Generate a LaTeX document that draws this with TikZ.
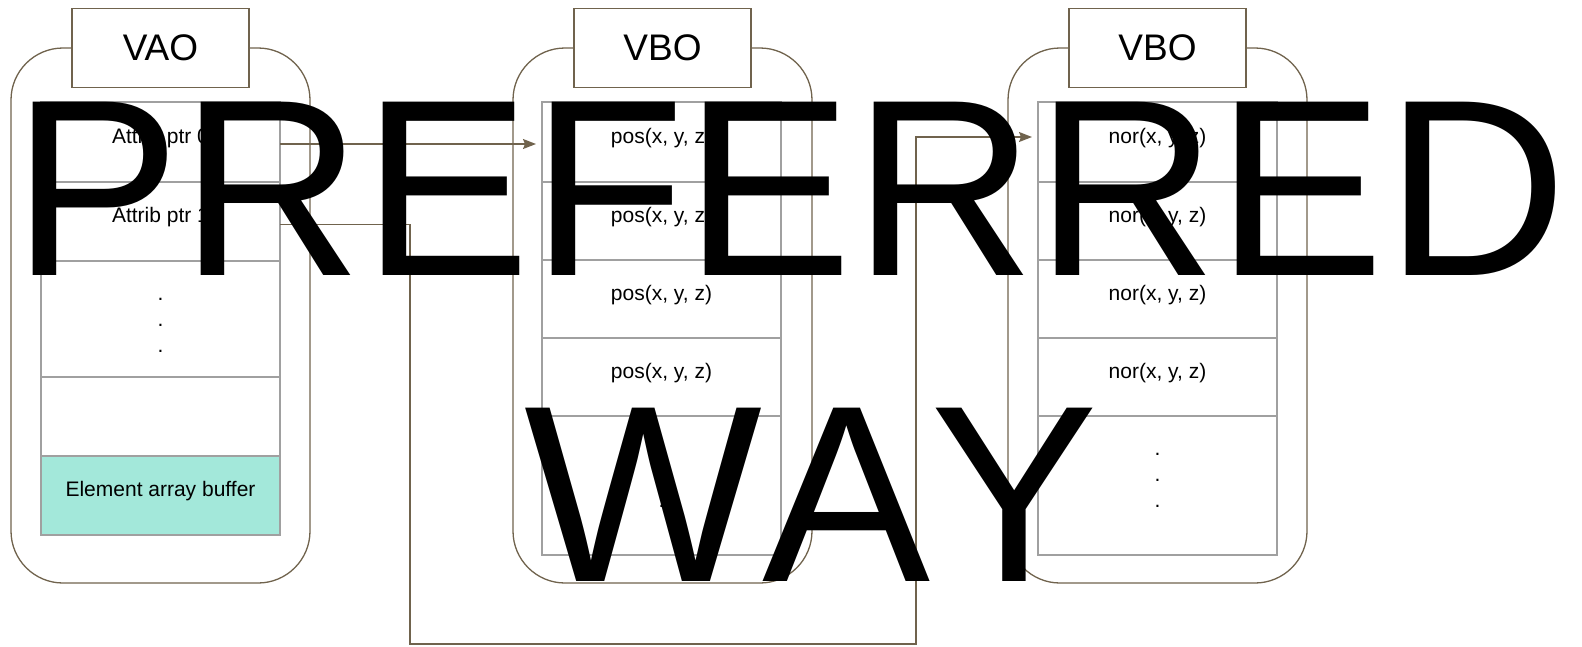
\documentclass[tikz,border=0pt]{standalone}
\usepackage{xcolor}
\usepackage{fontspec}
\setmainfont{Liberation Sans}
\newfontfamily\bannerfont[Kerning=Off]{Liberation Sans}
\usepackage{tikz}
\usetikzlibrary{arrows.meta,positioning}

\definecolor{rim}{RGB}{112,99,77}
\definecolor{grid}{RGB}{160,160,160}
\definecolor{ebofill}{RGB}{163,232,218}

\tikzstyle{holder} = [draw=rim, line width=1.3pt, rounded corners=52pt, minimum width=299pt, minimum height=535pt, inner sep=0pt, outer sep=0pt, anchor=north west]
\tikzstyle{tag} = [draw=rim, fill=white, line width=1.3pt, minimum width=177pt, minimum height=79pt, inner sep=0pt, font=\fontsize{37}{44}\selectfont]
\tikzstyle{cell} = [draw=grid, line width=2pt, minimum width=239pt, inner sep=0pt, outer sep=0pt, anchor=north west, font=\fontsize{21}{26}\selectfont, text height=2pt, text depth=0pt]
\tikzstyle{dots} = [align=center, text depth=0pt]
\tikzstyle{arrow} = [draw=rim, line width=1.5pt, -{Stealth[length=13pt,width=10pt,inset=2pt]}]
\tikzstyle{banner} = [inner sep=0pt, anchor=base, font=\bannerfont\fontsize{252}{300}\selectfont]

\begin{document}
\begin{tikzpicture}[x=1pt, y=-1pt, node distance=0pt]
\useasboundingbox (0,0) rectangle (1582,646);

	\node (vao) [holder] at (11,48) {};
	\node (vbopos) [holder] at (513,48) {};
	\node (vbonor) [holder] at (1008,48) {};

	\node (attr0) [cell, minimum height=80pt] at ([shift={(30,54)}]vao.north west) {Attrib ptr 0};
	\node (attr1) [cell, minimum height=79pt, below=of attr0] {Attrib ptr 1};
	\node (vaomore) [cell, dots, text height=66pt, minimum height=116pt, below=of attr1] {.\\.\\.};
	\node (vaospare) [cell, minimum height=79pt, below=of vaomore] {};
	\node (ebo) [cell, fill=ebofill, minimum height=79pt, below=of vaospare] {Element array buffer};

	\node (pos1) [cell, minimum height=80pt] at ([shift={(29,54)}]vbopos.north west) {pos(x, y, z)};
	\node (pos2) [cell, minimum height=78pt, below=of pos1] {pos(x, y, z)};
	\node (pos3) [cell, minimum height=78pt, below=of pos2] {pos(x, y, z)};
	\node (pos4) [cell, minimum height=78pt, below=of pos3] {pos(x, y, z)};
	\node (posmore) [cell, dots, text height=43pt, minimum height=139pt, below=of pos4] {.\\.\\.};

	\node (nor1) [cell, minimum height=80pt] at ([shift={(30,54)}]vbonor.north west) {nor(x, y, z)};
	\node (nor2) [cell, minimum height=78pt, below=of nor1] {nor(x, y, z)};
	\node (nor3) [cell, minimum height=78pt, below=of nor2] {nor(x, y, z)};
	\node (nor4) [cell, minimum height=78pt, below=of nor3] {nor(x, y, z)};
	\node (normore) [cell, dots, text height=43pt, minimum height=139pt, below=of nor4] {.\\.\\.};

	\node (vaotag) [tag] at (vao.north) {VAO};
	\node (postag) [tag] at (vbopos.north) {VBO};
	\node (nortag) [tag] at (vbonor.north) {VBO};

	\coordinate (bendA) at (410,644);
	\coordinate (bendB) at (916,644);

	\draw [arrow, shorten >=6pt] ([yshift=-2pt]attr0.east) -- ([yshift=-2pt]pos1.west);
	\draw [arrow, shorten >=6pt] ([yshift=-3pt]attr1.east) -| (bendA) -- (bendB) |- ([yshift=5pt]nor1.west);

	\node (pref) [banner] at (790,275) {PREFERRED};
	\node (way) [banner] at (811.5,581) {WAY};

\end{tikzpicture}
\end{document}
